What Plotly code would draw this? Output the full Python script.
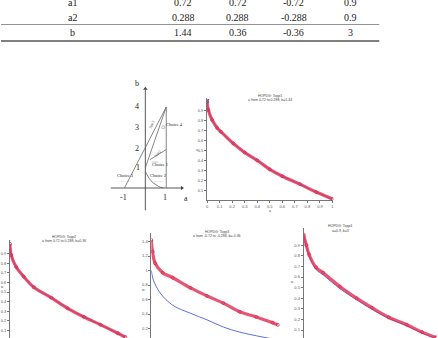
import plotly.graph_objects as go

W, H = 438, 338
def fx(p): return p / W
def fy(p): return 1 - p / H

# ---------------- data ----------------
row_labels = ["a1", "a2", "b"]
col_topp1 = ["0.72", "0.288", "1.44"]
col_topp2 = ["0.72", "0.288", "0.36"]
col_topp3 = ["-0.72", "-0.288", "-0.36"]
col_topp4 = ["0.9", "0.9", "3"]

# panel 1 (top right)
p1_x = [0, 0.01, 0.04, 0.08, 0.11, 0.21, 0.30, 0.40, 0.50, 0.60, 0.74, 0.87, 1.0]
p1_y = [1.0, 0.91, 0.81, 0.73, 0.69, 0.57, 0.48, 0.40, 0.31, 0.24, 0.16, 0.08, 0.01]
# panel 2 (bottom left)
p2_x = [0, 0.01, 0.05, 0.11, 0.19, 0.33, 0.46, 0.59, 0.72, 0.86, 0.92]
p2_y = [1.0, 0.885, 0.76, 0.66, 0.55, 0.44, 0.33, 0.24, 0.16, 0.07, 0.03]
# panel 3 (bottom middle)
p3_red_x = [0, 0.01, 0.03, 0.09, 0.17, 0.31, 0.44, 0.57, 0.70, 0.83, 0.96, 1.0]
p3_red_y = [1.42, 1.26, 1.10, 0.97, 0.90, 0.76, 0.65, 0.55, 0.43, 0.36, 0.28, 0.25]
p3_blue_x = [0, 0.016, 0.07, 0.17, 0.31, 0.44, 0.57, 0.70, 0.83, 0.96]
p3_blue_y = [1.0, 0.87, 0.69, 0.52, 0.41, 0.32, 0.22, 0.15, 0.10, 0.055]
# panel 4 (bottom right)
p4_x = [0, 0.02, 0.04, 0.09, 0.14, 0.26, 0.38, 0.49, 0.61, 0.74, 0.85, 0.95]
p4_red_y = [1.0, 0.90, 0.81, 0.69, 0.64, 0.51, 0.40, 0.31, 0.22, 0.15, 0.08, 0.03]
p4_blue_y = [1.0, 0.88, 0.79, 0.67, 0.62, 0.49, 0.385, 0.295, 0.21, 0.14, 0.07, 0.02]

# diagram (a-b plane)
boundary_a = [0, 0.1, 0.2, 0.35, 0.5, 0.65, 0.75, 0.82, 0.86]
boundary_b = [0.8, 0.6, 0.45, 0.27, 0.15, 0.07, 0.03, 0.01, 0]

RED = "#dc2a4e"
BLUE = "#4f5fd8"
SERIF = "Liberation Serif"
SANS = "Liberation Sans"

fig = go.Figure()

def red_band(x, y, xa, ya):
    fig.add_trace(go.Scatter(x=x, y=y, xaxis=xa, yaxis=ya, mode="lines",
                             line=dict(color="rgba(222,45,80,0.8)", width=3.2, shape="spline"),
                             hoverinfo="skip", showlegend=False))
    fig.add_trace(go.Scatter(x=x, y=y, xaxis=xa, yaxis=ya, mode="markers",
                             marker=dict(symbol="circle-open", size=3, color=RED, line=dict(width=0.8)),
                             showlegend=False))

def blue_line(x, y, xa, ya):
    fig.add_trace(go.Scatter(x=x, y=y, xaxis=xa, yaxis=ya, mode="lines",
                             line=dict(color=BLUE, width=0.9, shape="spline"),
                             showlegend=False))

# panel 1
blue_line(p1_x, p1_y, "x", "y")
red_band(p1_x, p1_y, "x", "y")
fig.add_trace(go.Scatter(x=[p1_x[0]], y=[p1_y[0]], xaxis="x", yaxis="y", mode="markers",
                         marker=dict(symbol="x-thin-open", size=4, color=BLUE, line=dict(width=1)),
                         showlegend=False))
# panel 2
blue_line(p2_x, p2_y, "x2", "y2")
red_band(p2_x, p2_y, "x2", "y2")
# panel 3
blue_line(p3_blue_x, p3_blue_y, "x3", "y3")
red_band(p3_red_x, p3_red_y, "x3", "y3")
# panel 4
blue_line(p4_x, p4_blue_y, "x4", "y4")
red_band(p4_x, p4_red_y, "x4", "y4")

# diagram lines
GR = "#666"
def dline(a, b, width=0.8, color=GR):
    fig.add_trace(go.Scatter(x=a, y=b, xaxis="x5", yaxis="y5", mode="lines",
                             line=dict(color=color, width=width), showlegend=False, hoverinfo="skip"))

dline([-1.65, 1.75], [0, 0], 0.9, "#444")
dline([0, 0], [-1.1, 4.85], 0.9, "#444")
dline([-1, 1], [0, 4])
dline([0, 1], [1, 4])
dline([0.22, 1], [1.4, 1.9])
dline([1, 1], [0, 4])
dline(boundary_a, boundary_b)
dline([0.3, 0.62], [1.28, 1.28], 0.6, "#aaa")
fig.add_trace(go.Scatter(x=[1.75], y=[0], xaxis="x5", yaxis="y5", mode="markers",
                         marker=dict(symbol="triangle-right", size=4, color="#444"), showlegend=False))
fig.add_trace(go.Scatter(x=[0], y=[4.9], xaxis="x5", yaxis="y5", mode="markers",
                         marker=dict(symbol="triangle-up", size=4, color="#444"), showlegend=False))
fig.add_trace(go.Scatter(x=[0.86], y=[3.0], xaxis="x5", yaxis="y5", mode="markers",
                         marker=dict(symbol="circle-open", size=3, color="#888", line=dict(width=0.6)),
                         showlegend=False))

# ---------------- axes ----------------
tickfont = dict(family=SANS, size=4, color="#555")
def ax(**kw):
    base = dict(showgrid=False, zeroline=False, showline=True, linecolor="#777", linewidth=0.8,
                ticks="outside", ticklen=2, tickwidth=0.6, tickcolor="#777", tickfont=tickfont,
                fixedrange=True)
    base.update(kw)
    return base

yt = [0.1, 0.2, 0.3, 0.4, 0.5, 0.6, 0.7, 0.8, 0.9]
yt_txt = [str(v) for v in yt]
xt = [0, 0.1, 0.2, 0.3, 0.4, 0.5, 0.6, 0.7, 0.8, 0.9, 1]
xt_txt = [str(v) for v in xt]

fig.update_layout(
    width=W, height=H, margin=dict(l=0, r=0, t=0, b=0),
    paper_bgcolor="white", plot_bgcolor="rgba(0,0,0,0)", showlegend=False,
    xaxis=ax(domain=[fx(207), fx(334)], range=[0, 127 / 126], anchor="y",
             tickvals=xt, ticktext=xt_txt),
    yaxis=ax(domain=[fy(200), fy(98)], range=[0, 102 / 99], anchor="x",
             tickvals=yt, ticktext=yt_txt),
    xaxis2=ax(domain=[fx(9), fx(140)], range=[0, 131 / 126], anchor="y2", visible=False),
    yaxis2=ax(domain=[0, fy(240)], range=[2 / 96, 100 / 96], anchor="x2",
              tickvals=yt, ticktext=yt_txt),
    xaxis3=ax(domain=[fx(151), fx(285)], range=[0, 134 / 127], anchor="y3", visible=False),
    yaxis3=ax(domain=[0, fy(233)], range=[5 / 72.5, 110 / 72.5], anchor="x3",
              tickvals=[0.2, 0.4, 0.6, 0.8, 1, 1.2, 1.4],
              ticktext=["0.2", "0.4", "0.6", "0.8", "1", "1.2", "1.4"]),
    xaxis4=ax(domain=[fx(304), 1], range=[0, 134 / 140], anchor="y4", visible=False),
    yaxis4=ax(domain=[0, fy(228)], range=[2.6 / 106, 112.6 / 106], anchor="x4",
              tickvals=yt, ticktext=yt_txt),
    xaxis5=dict(domain=[fx(105), fx(195)], range=[-40 / 21, 50 / 21], visible=False,
                anchor="y5", fixedrange=True),
    yaxis5=dict(domain=[fy(215), fy(75)], range=[-27 / 20.25, 113 / 20.25], visible=False,
                anchor="x5", fixedrange=True),
)

ann = []
def txt(x, y, s, size=10, color="#222", family=SERIF, angle=0):
    ann.append(dict(x=fx(x), y=fy(y), xref="paper", yref="paper", text=s, showarrow=False,
                    font=dict(family=family, size=size, color=color), textangle=angle,
                    xanchor="center", yanchor="middle"))

# table
row_y = [2, 17, 33]
col_x = [183, 238, 294, 351]
cols = [col_topp1, col_topp2, col_topp3, col_topp4]
for i, lab in enumerate(row_labels):
    txt(72, row_y[i], lab)
    for j, c in enumerate(cols):
        txt(col_x[j], row_y[i], c[i])

shapes = [
    dict(type="line", xref="paper", yref="paper", x0=0, x1=fx(380), y0=fy(24.5), y1=fy(24.5),
         line=dict(color="#777", width=0.8)),
    dict(type="line", xref="paper", yref="paper", x0=0, x1=fx(380), y0=fy(41), y1=fy(41),
         line=dict(color="#555", width=1.5)),
]

# diagram labels
txt(137, 84, "b", 8)
txt(137, 107, "4", 8)
txt(137, 128, "3", 8)
txt(137, 148, "2", 8)
txt(138, 167, "1", 8)
txt(123, 197, "-1", 8)
txt(165, 197, "1", 8)
txt(186, 198, "a", 8)
txt(174, 124, "Choice 4", 4.5)
txt(160, 164, "Choice 1", 4.5)
txt(125, 175, "Choice 3", 4.5)
txt(158, 175, "Choice 2", 4.5)
txt(125, 181, "(b<1+a)", 2.5, "#999")
txt(158, 181, "(b<1-a)", 2.5, "#999")
txt(151, 124, "line3", 4, "#555", angle=-65)
txt(157, 153, "line2", 4, "#555", angle=-45)

# panel titles
txt(270, 96, "HOPDG: Topp1", 3.5, "#444", SANS)
txt(270, 100, "a from 0.72 to 0.288, b=1.44", 3.5, "#444", SANS)
txt(63, 237, "HOPDG: Topp2", 3.5, "#444", SANS)
txt(63, 241, "a from 0.72 to 0.288, b=0.36", 3.5, "#444", SANS)
txt(217, 232, "HOPDG: Topp3", 3.5, "#444", SANS)
txt(217, 236, "a from -0.72 to -0.288, b=-0.36", 3.5, "#444", SANS)
txt(341, 226, "HOPDG: Topp4", 3.5, "#444", SANS)
txt(341, 231, "a=0.9, b=3", 3.5, "#444", SANS)
# axis titles
txt(197, 150, "u", 3.5, "#444", SANS)
txt(270, 211, "a", 3.5, "#444", SANS)
txt(1.5, 287, "w", 3, "#444", SANS)
txt(143, 290, "w", 3.5, "#444", SANS)
txt(293, 282, "w", 3, "#444", SANS)

fig.update_layout(annotations=ann, shapes=shapes)
fig.write_html("out.html")
